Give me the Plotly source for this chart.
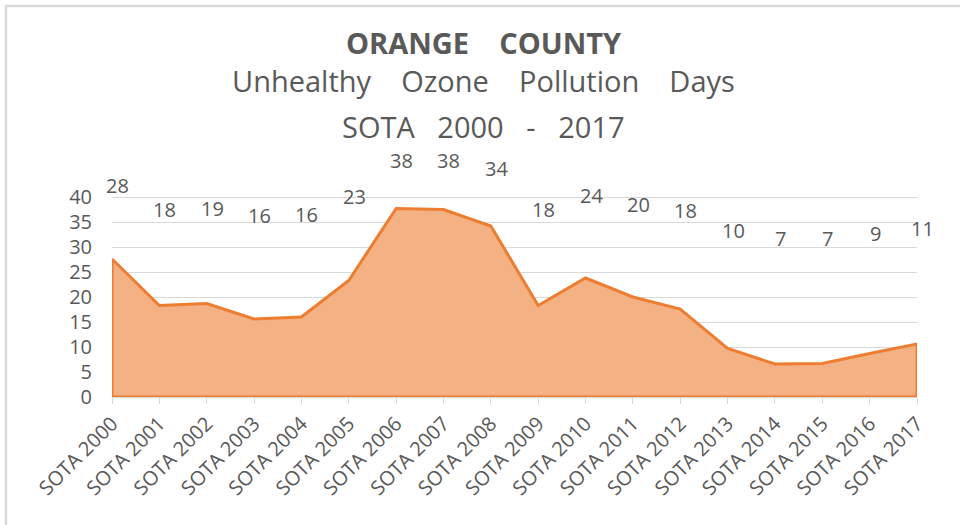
import plotly.graph_objects as go

years = [f"SOTA {y}" for y in range(2000, 2018)]
days = [27.6, 18.3, 18.7, 15.6, 16.0, 23.3, 37.7, 37.5, 34.2, 18.3, 23.8, 20.0, 17.6, 9.7, 6.6, 6.7, 8.7, 10.6]
y_ticks = [0, 5, 10, 15, 20, 25, 30, 35, 40]
title_lines = ["<b>ORANGE    COUNTY</b>",
               "Unhealthy    Ozone    Pollution    Days",
               "SOTA   2000   -   2017"]

FONT = "Open Sans"
GREY = "#595959"
idx = list(range(len(years)))

fig = go.Figure()
# closed area polygon (baseline at zero)
fig.add_trace(go.Scatter(
    x=idx + [idx[-1], idx[0], idx[0]],
    y=days + [0, 0, days[0]],
    mode="lines", fill="toself", fillcolor="#F4B183",
    line=dict(color="#ED7D31", width=3), hoverinfo="skip", showlegend=False,
))
# invisible anchor so the label scale axis exists
fig.add_trace(go.Scatter(x=idx, y=days, yaxis="y2", mode="markers",
                         marker=dict(opacity=0), hoverinfo="skip", showlegend=False))

# data labels (Excel-style, placed on a secondary value scale)
for i, v in zip(idx, days):
    fig.add_annotation(x=i, y=v, xref="x", yref="y2", text=f"{round(v)}",
                       showarrow=False, xshift=5.5, xanchor="center", yanchor="middle",
                       font=dict(family=FONT, size=20, color=GREY))

title_y = [1.418, 1.268, 1.082]
title_sizes = [29, 29, 29]
for t, yy, s in zip(title_lines, title_y, title_sizes):
    fig.add_annotation(x=0.462, y=yy, xref="paper", yref="paper", text=t, showarrow=False,
                       xanchor="center", yanchor="middle",
                       font=dict(family=FONT, size=s, color=GREY))

fig.update_layout(
    width=960, height=525,
    margin=dict(l=112, r=43, t=147, b=128),
    paper_bgcolor="white", plot_bgcolor="white",
    font=dict(family=FONT, color=GREY),
    hovermode=False,
    xaxis=dict(range=[0, len(years) - 1], tickvals=idx, ticktext=years, tickangle=-45,
               showgrid=False, zeroline=False, showline=True, linecolor="#D9D9D9", linewidth=1,
               ticks="outside", ticklen=6, tickcolor="#D9D9D9",
               tickfont=dict(family=FONT, size=20, color=GREY)),
    yaxis=dict(range=[0, 50], tickvals=y_ticks, showgrid=True, gridcolor="#D9D9D9", gridwidth=1.3,
               zeroline=False, showline=False, ticklabelstandoff=19,
               tickfont=dict(family=FONT, size=20, color=GREY)),
    yaxis2=dict(range=[-56.18, 42.87], overlaying="y", visible=False),
    shapes=[
        dict(type="line", xref="paper", yref="paper", x0=-0.1317, x1=1.1, y0=1.564, y1=1.564,
             line=dict(color="#D9D9D9", width=2.5)),
        dict(type="line", xref="paper", yref="paper", x0=-0.1317, x1=-0.1317, y0=1.568, y1=-0.6,
             line=dict(color="#D9D9D9", width=2.5)),
    ],
)

fig.write_html("out.html", config={"displayModeBar": False},
               post_script="document.body.style.margin='0';")
